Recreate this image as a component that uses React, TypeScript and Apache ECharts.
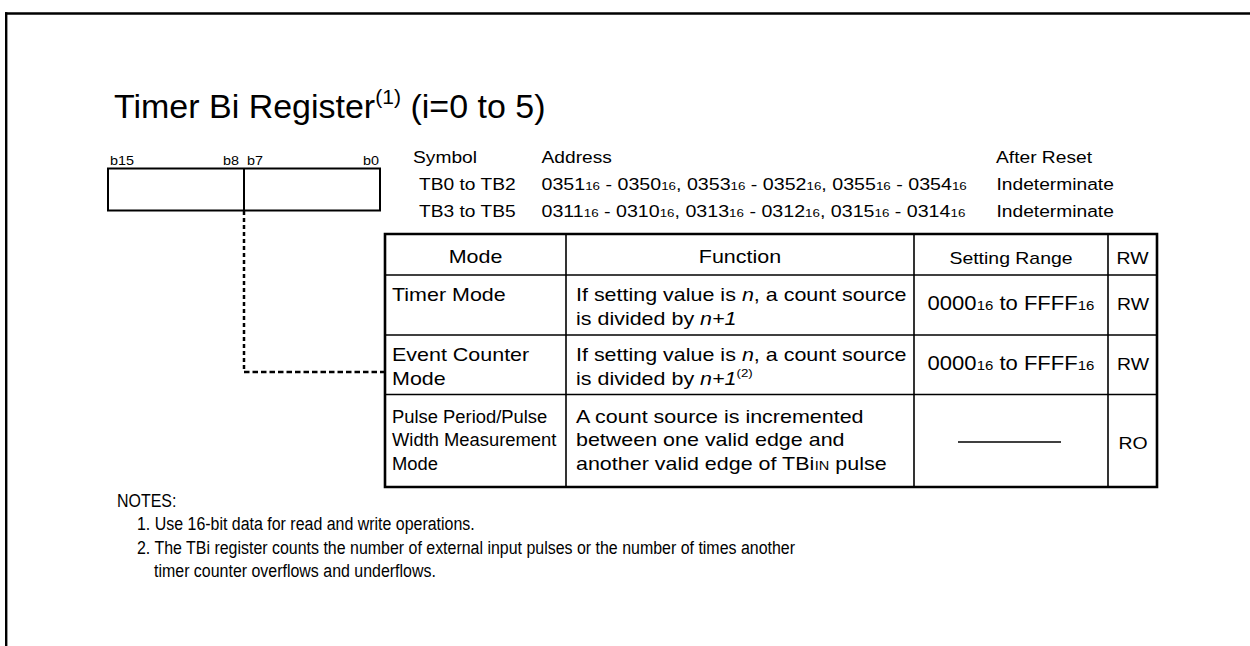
import React, { useEffect, useRef } from 'react';
import * as echarts from 'echarts';

const FONT = 'Liberation Sans, Arial, Helvetica, sans-serif';

// ---- content ----
const titleText = 'Timer Bi Register^(1)^ (i=0 to 5)';
const bitLabels = ['b15', 'b8', 'b7', 'b0'];
const symbolHeaders = ['Symbol', 'Address', 'After Reset'];
const symbols = ['TB0 to TB2', 'TB3 to TB5'];
const addresses = [
  '0351~16~ - 0350~16~, 0353~16~ - 0352~16~, 0355~16~ - 0354~16~',
  '0311~16~ - 0310~16~, 0313~16~ - 0312~16~, 0315~16~ - 0314~16~',
];
const afterReset = ['Indeterminate', 'Indeterminate'];
const tableHeaders = ['Mode', 'Function', 'Setting Range', 'RW'];
const modes = [['Timer Mode'], ['Event Counter', 'Mode'], ['Pulse Period/Pulse', 'Width Measurement', 'Mode']];
const functions = [
  ['If setting value is *n*, a count source', 'is divided by *n+1*'],
  ['If setting value is *n*, a count source', 'is divided by *n+1*^(2)^'],
  ['A count source is incremented', 'between one valid edge and', 'another valid edge of TBi~IN~ pulse'],
];
const settingRanges = ['0000~16~ to FFFF~16~', '0000~16~ to FFFF~16~', ''];
const access = ['RW', 'RW', 'RO'];
const notesTitle = 'NOTES:';
const notes = [
  ['1. Use 16-bit data for read and write operations.'],
  ['2. The TBi register counts the number of external input pulses or the number of times another', 'timer counter overflows and underflows.'],
];

// ---- helpers ----
type Seg = { t: string; size: number; italic?: boolean; rise?: number };

let ctx: CanvasRenderingContext2D | null = null;
function tw(t: string, size: number, italic?: boolean) {
  if (!ctx) ctx = document.createElement('canvas').getContext('2d');
  ctx!.font = `${italic ? 'italic ' : ''}${size}px ${FONT}`;
  return ctx!.measureText(t).width;
}

function parse(str: string, size: number): Seg[] {
  return str
    .split(/(\*[^*]+\*|\^[^^]+\^|~[^~]+~)/)
    .filter((p) => p.length > 0)
    .map((p) => {
      if (p[0] === '*') return { t: p.slice(1, -1), size, italic: true };
      if (p[0] === '^') return { t: p.slice(1, -1), size: size * 0.62, rise: size * 0.42 };
      if (p[0] === '~') return { t: p.slice(1, -1), size: size * 0.68 };
      return { t: p, size };
    });
}

function run(x: number, base: number, segs: Seg[], opts: { sx?: number; align?: 'left' | 'center' | 'right' } = {}) {
  const sx = opts.sx ?? 1;
  const widths = segs.map((s) => tw(s.t, s.size, s.italic) * sx);
  const total = widths.reduce((a, b) => a + b, 0);
  let cx = opts.align === 'center' ? x - total / 2 : opts.align === 'right' ? x - total : x;
  const out: any[] = [];
  segs.forEach((s, i) => {
    const trimmed = s.t.trim();
    if (trimmed.length) {
      const lead = s.t.length - s.t.trimStart().length;
      const off = lead ? tw(s.t.slice(0, lead), s.size, s.italic) * sx : 0;
      out.push({
        type: 'text',
        silent: true,
        x: cx + off,
        y: base - (s.rise || 0) - 0.35 * s.size,
        scaleX: sx,
        style: {
          x: 0,
          y: 0,
          text: trimmed,
          fontSize: s.size,
          fontFamily: FONT,
          fontStyle: s.italic ? 'italic' : 'normal',
          fill: '#000',
          align: 'left',
          textAlign: 'left',
          verticalAlign: 'middle',
          textVerticalAlign: 'middle',
        },
      });
    }
    cx += widths[i];
  });
  return out;
}

function ln(x1: number, y1: number, x2: number, y2: number, w: number, dash?: number[]) {
  return {
    type: 'line',
    silent: true,
    shape: { x1, y1, x2, y2 },
    style: { stroke: '#000', lineWidth: w, lineDash: dash, fill: 'none' },
  };
}

function rect(x: number, y: number, width: number, height: number, w: number) {
  return {
    type: 'rect',
    silent: true,
    shape: { x, y, width, height },
    style: { stroke: '#000', lineWidth: w, fill: 'none' },
  };
}

function buildElements() {
  const els: any[] = [];
  // frame
  els.push(ln(5, 13.5, 1250, 13.5, 2.4));
  els.push(ln(6.2, 12.3, 6.2, 646, 2.4));

  // title
  els.push(...run(114, 118, parse(titleText, 33), { sx: 1.03 }));

  // register box
  els.push(rect(108, 168.5, 272, 42, 2));
  els.push(ln(244, 168.5, 244, 210.5, 2));
  const bitX = [110, 239, 247, 379];
  const bitAlign: any[] = ['left', 'right', 'left', 'right'];
  bitLabels.forEach((b, i) => els.push(...run(bitX[i], 165, parse(b, 12.5), { sx: 1.15, align: bitAlign[i] })));

  // dotted connector
  els.push(ln(244, 211, 244, 372, 2.5, [4, 3]));
  els.push(ln(244, 372, 385, 372, 2.5, [5.5, 3]));

  // symbol / address block
  const hs = 17, hsx = 1.13;
  const hX = [413, 541.5, 996];
  symbolHeaders.forEach((h, i) => els.push(...run(hX[i], 163, parse(h, hs), { sx: hsx })));
  const rowBase = [190, 217];
  symbols.forEach((s, i) => {
    els.push(...run(419, rowBase[i], parse(s, hs), { sx: hsx }));
    els.push(...run(541.5, rowBase[i], parse(addresses[i], hs), { sx: 1.155 }));
    els.push(...run(996.5, rowBase[i], parse(afterReset[i], hs), { sx: hsx }));
  });

  // table grid
  const cols = [385, 566, 914, 1108, 1157];
  const rows = [234, 275, 335, 394.5, 487];
  for (let r = 1; r < rows.length - 1; r++) els.push(ln(cols[0], rows[r], cols[4], rows[r], 1.6));
  for (let c = 1; c < cols.length - 1; c++) els.push(ln(cols[c], rows[0], cols[c], rows[4], 1.6));
  els.push(rect(cols[0], rows[0], cols[4] - cols[0], rows[4] - rows[0], 2.6));

  // header row
  const headSizes = [19, 19, 17.2, 17.2];
  tableHeaders.forEach((h, i) => {
    els.push(...run((cols[i] + cols[i + 1]) / 2, 263.5, parse(h, headSizes[i]), { sx: 1.13, align: 'center' }));
  });

  // body rows
  const lineBases = [[301.5, 325], [361, 385], [423, 446.5, 470]];
  modes.forEach((m, r) => {
    const small = r === 2;
    m.forEach((t, k) =>
      els.push(...run(392, lineBases[r][k], parse(t, small ? 17.5 : 19), { sx: small ? 1.05 : 1.13 }))
    );
  });
  functions.forEach((f, r) => {
    f.forEach((t, k) => els.push(...run(576, lineBases[r][k], parse(t, 19), { sx: 1.13 })));
  });
  const setBase = [310, 370, 448.5];
  settingRanges.forEach((s, r) => {
    if (s) els.push(...run((cols[2] + cols[3]) / 2, setBase[r], parse(s, 19.5), { sx: 1.13, align: 'center' }));
    else els.push(ln(958, 442, 1061, 442, 1.5));
  });
  access.forEach((a, r) => {
    els.push(...run((cols[3] + cols[4]) / 2 + 0.5, setBase[r], parse(a, 17.2), { sx: 1.13, align: 'center' }));
  });

  // notes
  const ns = 19, nsx = 0.84;
  els.push(...run(117, 507, parse(notesTitle, ns), { sx: nsx }));
  let nb = 530.5;
  notes.forEach((n) => {
    n.forEach((t, k) => {
      els.push(...run(k === 0 ? 137 : 154, nb, parse(t, ns), { sx: nsx }));
      nb += 23.5;
    });
  });

  return els;
}

export default function App() {
  const ref = useRef<HTMLDivElement>(null);
  useEffect(() => {
    const chart = echarts.init(ref.current!, null, { renderer: 'svg' });
    chart.setOption({
      animation: false,
      backgroundColor: '#ffffff',
      graphic: { elements: buildElements() },
    });
    return () => chart.dispose();
  }, []);
  return (
    <div
      ref={ref}
      style={{ position: 'fixed', left: 0, top: 0, width: 1250, height: 646, background: '#fff' }}
    />
  );
}
